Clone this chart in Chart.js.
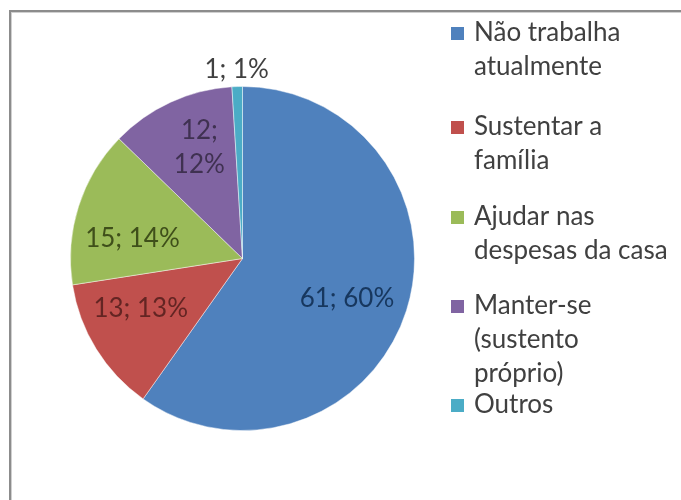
<!DOCTYPE html>
<html>
<head>
<meta charset="utf-8">
<script src="https://cdn.jsdelivr.net/npm/chart.js@4/dist/chart.umd.min.js"></script>
<style>
  html, body { margin: 0; padding: 0; background: #ffffff; }
  #wrap { width: 681px; height: 500px; position: relative; }
</style>
</head>
<body>
<div id="wrap"><canvas id="c" width="681" height="500"></canvas></div>
<script>
// ---- data ----
const categories = [
  ["Não trabalha", "atualmente"],
  ["Sustentar a", "família"],
  ["Ajudar nas", "despesas da casa"],
  ["Manter-se", "(sustento", "próprio)"],
  ["Outros"]
];
const counts = [61, 13, 15, 12, 1];
const percentLabels = ["60%", "13%", "14%", "12%", "1%"];

// ---- styles ----
const sliceColors = ["#4F81BD", "#C0504D", "#9BBB59", "#8064A2", "#4BACC6"];
const labelColors = ["#17375E", "#632523", "#3F4F1A", "#3F3151", "#404040"];
const labelAngleFrac = [0.515, 0.62, 0.36, 0.58, 0.5];
const labelRadiusFrac = [0.65, 0.66, 0.65, 0.69, 1.10];
const labelWrap = [false, false, false, true, false];
const FONT = "26px Lato, 'DejaVu Sans', sans-serif";
const LINE_H = 34;
const legendFirstLineY = [33, 127, 217, 306, 405];

const framePlugin = {
  id: 'frame',
  beforeDraw(chart) {
    const ctx = chart.ctx;
    ctx.save();
    ctx.fillStyle = '#ffffff';
    ctx.fillRect(0, 0, chart.width, chart.height);
    ctx.fillStyle = '#8c8c8c';
    ctx.fillRect(9, 10, chart.width - 9, 2);
    ctx.fillRect(9, 10, 2, chart.height - 10);
    ctx.fillStyle = '#d0d0d0';
    ctx.fillRect(11, 12, chart.width - 11, 1);
    ctx.fillRect(11, 12, 1, chart.height - 12);
    ctx.restore();
  }
};

const labelPlugin = {
  id: 'sliceLabels',
  afterDatasetsDraw(chart) {
    const ctx = chart.ctx;
    const meta = chart.getDatasetMeta(0);
    const vals = chart.data.datasets[0].data;
    ctx.save();
    ctx.font = FONT;
    ctx.textAlign = 'center';
    ctx.textBaseline = 'middle';
    meta.data.forEach((arc, i) => {
      const p = arc.getProps(['x', 'y', 'startAngle', 'endAngle', 'outerRadius'], true);
      const a = p.startAngle + (p.endAngle - p.startAngle) * labelAngleFrac[i];
      const r = p.outerRadius * labelRadiusFrac[i];
      const cx = p.x + Math.cos(a) * r;
      const cy = p.y + Math.sin(a) * r;
      ctx.fillStyle = labelColors[i];
      const lines = labelWrap[i]
        ? [vals[i] + ';', percentLabels[i]]
        : [vals[i] + '; ' + percentLabels[i]];
      const top = cy - (lines.length - 1) * LINE_H / 2;
      lines.forEach((t, k) => ctx.fillText(t, cx, top + k * LINE_H));
    });
    ctx.restore();
  }
};

const legendPlugin = {
  id: 'sideLegend',
  afterDraw(chart) {
    const ctx = chart.ctx;
    const labels = chart.data.labels;
    const colors = chart.data.datasets[0].backgroundColor;
    ctx.save();
    ctx.font = FONT;
    ctx.textAlign = 'left';
    ctx.textBaseline = 'middle';
    labels.forEach((lines, i) => {
      const y0 = legendFirstLineY[i];
      ctx.fillStyle = colors[i];
      ctx.fillRect(451, y0 - 6, 13, 13);
      ctx.fillStyle = '#404040';
      lines.forEach((t, k) => ctx.fillText(t, 474, y0 + k * LINE_H));
    });
    ctx.restore();
  }
};

new Chart(document.getElementById('c'), {
  type: 'pie',
  data: {
    labels: categories,
    datasets: [{
      data: counts,
      backgroundColor: sliceColors,
      borderColor: 'rgba(255,255,255,0.45)',
      borderWidth: 1
    }]
  },
  options: {
    responsive: false,
    animation: false,
    layout: { padding: { left: 70, right: 266, top: 86, bottom: 69 } },
    plugins: {
      legend: { display: false },
      tooltip: { enabled: false },
      title: { display: false }
    }
  },
  plugins: [framePlugin, labelPlugin, legendPlugin]
});
</script>
</body>
</html>
